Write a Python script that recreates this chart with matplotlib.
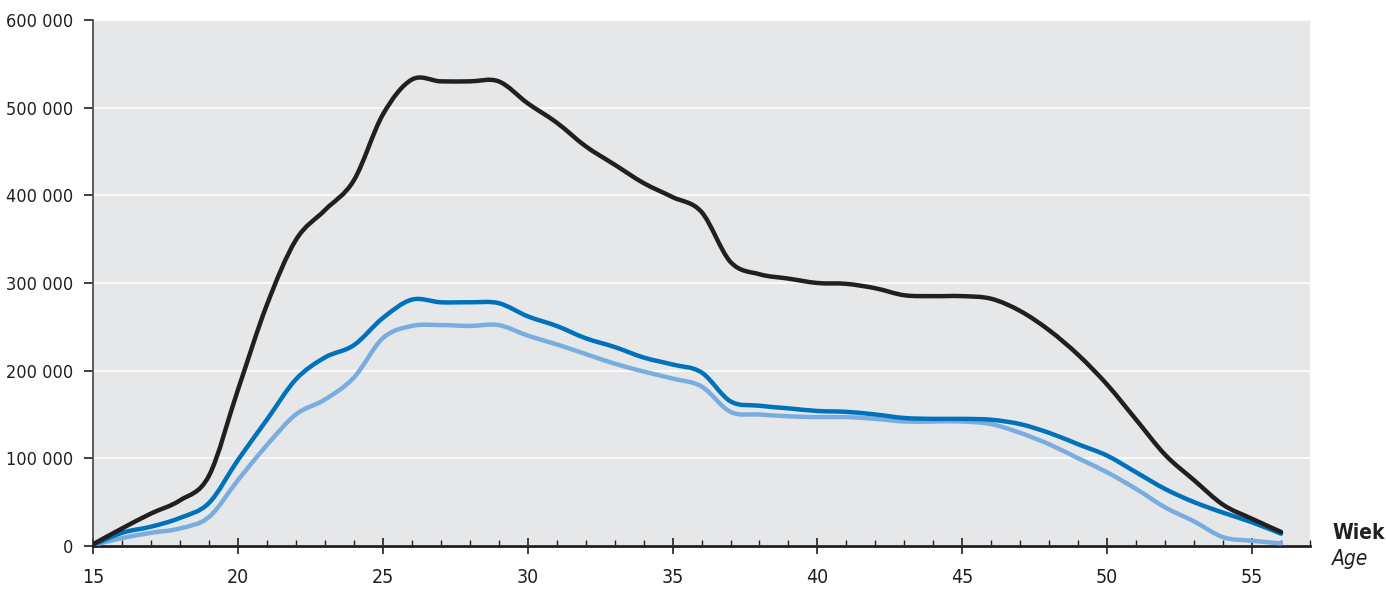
import numpy as np
import matplotlib.pyplot as plt
from matplotlib.path import Path
from matplotlib.patches import PathPatch
from matplotlib.ticker import MultipleLocator, FuncFormatter

plt.rcParams['font.family'] = ['DejaVu Sans']
plt.rcParams['font.stretch'] = 'condensed'

ages = list(range(15, 57))

# ogółem
total = [2000, 20000, 37000, 52000, 80000, 178000, 275000, 349000, 383000, 417000,
         492000, 532000, 530000, 530000, 530000, 505000, 483000, 456000, 435000, 414000,
         398000, 381000, 324000, 310000, 305000, 300000, 299000, 294000, 286000, 285000,
         285000, 282000, 268000, 246000, 218000, 184000, 144000, 104000, 75000, 47000,
         31000, 16000]
# seria ciemnoniebieska
series_a = [1000, 15000, 22000, 32000, 49000, 98000, 144000, 190000, 215000, 229000,
            260000, 281000, 278000, 278000, 277000, 262000, 251000, 237000, 227000, 215000,
            207000, 198000, 165000, 160000, 157000, 154000, 153000, 150000, 146000, 145000,
            145000, 144000, 139000, 129000, 116000, 103000, 84000, 65000, 50000, 38000,
            27000, 14000]
# seria jasnoniebieska
series_b = [1000, 9000, 15000, 20000, 33000, 75000, 115000, 150000, 167000, 192000,
            237000, 251000, 252000, 251000, 252000, 240000, 230000, 219000, 208000, 199000,
            191000, 182000, 153000, 150000, 148000, 147000, 147000, 145000, 142000, 142000,
            142000, 139000, 129000, 116000, 100000, 84000, 65000, 44000, 28000, 10000,
            6000, 3000]


def smooth_path(x, y):
    # Catmull-Rom przez punkty danych jako krzywe Beziera
    x = np.asarray(x, float)
    y = np.asarray(y, float)
    verts = [(x[0], y[0])]
    codes = [Path.MOVETO]
    n = len(x)
    for i in range(n - 1):
        x0, y0 = (x[i - 1], y[i - 1]) if i > 0 else (x[i], y[i])
        x3, y3 = (x[i + 2], y[i + 2]) if i + 2 < n else (x[i + 1], y[i + 1])
        c1 = (x[i] + (x[i + 1] - x0) / 6, y[i] + (y[i + 1] - y0) / 6)
        c2 = (x[i + 1] - (x3 - x[i]) / 6, y[i + 1] - (y3 - y[i]) / 6)
        verts += [c1, c2, (x[i + 1], y[i + 1])]
        codes += [Path.CURVE4] * 3
    return Path(verts, codes)


fig = plt.figure(figsize=(13.86, 5.90), dpi=100)
ax = fig.add_axes([0.0671, 0.0746, 0.8781, 0.8915])
ax.set_facecolor('#e6e7e9')

for vals, col, z in [(series_b, '#7aaddf', 3), (series_a, '#0072bc', 4), (total, '#231f20', 5)]:
    ax.add_patch(PathPatch(smooth_path(ages, vals), facecolor='none', edgecolor=col,
                           lw=3.2, capstyle='round', joinstyle='round', zorder=z))

ax.set_xlim(15, 57)
ax.set_ylim(0, 600000)

ax.yaxis.set_major_locator(MultipleLocator(100000))
ax.yaxis.set_major_formatter(FuncFormatter(lambda v, p: f'{int(v):,}'.replace(',', ' ')))
ax.grid(axis='y', color='white', lw=1.2)
ax.set_axisbelow(True)

ax.xaxis.set_major_locator(MultipleLocator(5))
ax.xaxis.set_minor_locator(MultipleLocator(1))
ax.tick_params(axis='x', which='major', direction='inout', length=11, width=1.2, color='#231f20',
               labelsize=14, pad=10, labelcolor='#231f20')
ax.tick_params(axis='x', which='minor', direction='in', length=4.5, width=1.0, color='#231f20')
ax.tick_params(axis='y', direction='out', length=6.5, width=1.2, color='#231f20', labelsize=13,
               pad=8, labelcolor='#231f20')

for s in ['top', 'right']:
    ax.spines[s].set_visible(False)
ax.spines['left'].set_color('#444444')
ax.spines['left'].set_linewidth(1.2)
ax.spines['bottom'].set_color('#231f20')
ax.spines['bottom'].set_linewidth(2)

fig.text(0.961, 0.086, 'Wiek', fontsize=15, fontweight='bold', color='#231f20', va='baseline')
fig.text(0.961, 0.042, 'Age', fontsize=15, fontstyle='italic', color='#231f20', va='baseline')

fig.savefig('out.png', dpi=100)
